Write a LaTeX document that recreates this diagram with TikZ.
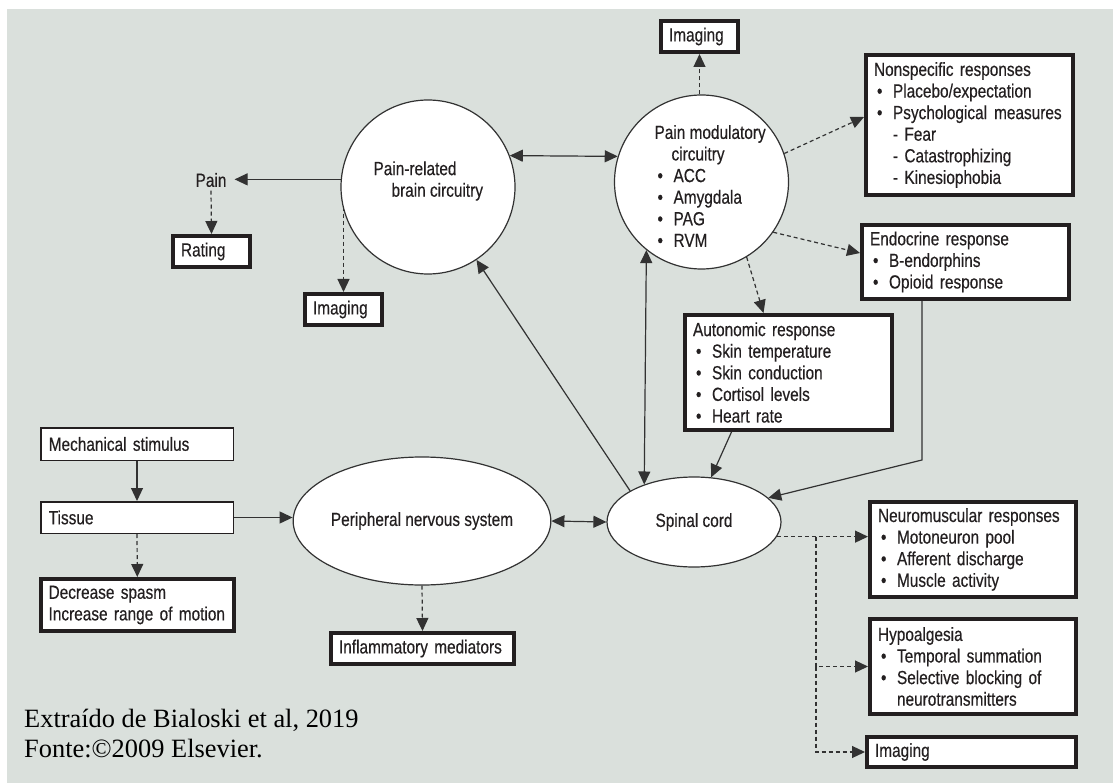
\documentclass[tikz,border=0pt]{standalone}
\usepackage{fontspec}
\setmainfont{Liberation Sans}[FakeStretch=0.81,FakeBold=0.35]
\newfontfamily\capfont{Liberation Serif}
\usetikzlibrary{arrows.meta,shapes.geometric}

\definecolor{panel}{RGB}{218,224,220}
\definecolor{ink}{RGB}{35,31,32}
\definecolor{wire}{RGB}{50,50,50}

% bullet and dash items of the lists
\newcommand{\itm}[1]{\mbox{\makebox[19pt][l]{\hspace*{3pt}\textbullet}#1}}
\newcommand{\subitm}[1]{\mbox{\hspace*{19pt}- #1}}

\begin{document}
\begin{tikzpicture}[x=1pt, y=-1pt,
    font=\fontsize{19}{21.6}\selectfont,
    every node/.style={text=ink},
    conn/.style={draw=wire, line width=1.2pt},
    arr/.style={-{Triangle[length=13pt,width=12pt]}},
    biarr/.style={{Triangle[length=13pt,width=12pt]}-{Triangle[length=13pt,width=12pt]}},
    dashln/.style={dash pattern=on 4pt off 3pt},
    thinbox/.style={draw=ink, fill=white, line width=1.5pt, inner xsep=8pt, inner ysep=0pt, align=left},
    thickbox/.style={thinbox, line width=4pt},
    blob/.style={draw=wire, fill=white, line width=1.2pt, inner sep=0pt}]

    % Background panel
    \fill[white] (0,0) rectangle (1113,783);
    \fill[panel] (7,9) rectangle (1113,783);
    \useasboundingbox (0,0) rectangle (1113,783);

    % Brain circuits
    \node[blob, circle, minimum size=174pt] (brain) at (428,187) {};
    \node[align=left, anchor=west] (braintxt) at (370,181) {Pain-related\\\hspace*{18pt}brain circuitry};
    \node[blob, circle, minimum size=174pt] (mod) at (701.5,182) {};
    \node[align=left, anchor=west] (modtxt) at (651,186) {Pain modulatory\\\hspace*{17pt}circuitry\\\itm{ACC}\\\itm{Amygdala}\\\itm{PAG}\\\itm{RVM}};

    % Peripheral nervous system and spinal cord
    \node[blob, ellipse, minimum width=230pt, minimum height=128pt] (pn) at (422,521) {Peripheral nervous system};
    \node[blob, ellipse, minimum width=174pt, minimum height=90pt] (sp) at (694,522) {Spinal cord};

    % Outputs of the brain
    \node[inner xsep=8pt] (pain) at (211,180) {Pain};
    \node[thickbox, text width=61pt, minimum height=31pt] (rating) at (211.5,251.5) {Rating};
    \node[thickbox, text width=61pt, minimum height=31pt] (img2) at (343.5,309.5) {Imaging};
    \node[thickbox, text width=61pt, minimum height=31pt] (img1) at (699.5,36.5) {Imaging};
    \node[thickbox, text width=191pt, minimum height=140pt] (ns) at (969.5,125) {Nonspecific responses\\\itm{Placebo/expectation}\\\itm{Psychological\hspace{7pt}measures}\\\subitm{Fear}\\\subitm{Catastrophizing}\\\subitm{Kinesiophobia}};
    \node[thickbox, text width=191pt, minimum height=74pt] (en) at (965.5,262) {Endocrine response\\\itm{B-endorphins}\\\itm{Opioid response}};
    \node[thickbox, text width=191pt, minimum height=115pt] (au) at (788.5,372.5) {Autonomic response\\\itm{Skin temperature}\\\itm{Skin conduction}\\\itm{Cortisol levels}\\\itm{Heart rate}};

    % Tissue chain
    \node[thinbox, text width=176.5pt, minimum height=32.5pt] (mech) at (137,444) {Mechanical stimulus};
    \node[thinbox, text width=176.5pt, minimum height=31.5pt] (tissue) at (137,517.5) {Tissue};
    \node[thickbox, text width=177.4pt, minimum height=52pt] (dec) at (137.3,605) {Decrease spasm\\Increase range of motion};
    \node[thickbox, text width=167pt, minimum height=31pt] (infl) at (422.5,648.5) {Inflammatory mediators};

    % Outputs of the spinal cord
    \node[thickbox, text width=190pt, minimum height=95pt] (nm) at (973,549.5) {Neuromuscular responses\\\itm{Motoneuron pool}\\\itm{Afferent discharge}\\\itm{Muscle activity}};
    \node[thickbox, text width=190pt, minimum height=95pt] (hy) at (973,666.5) {Hypoalgesia\\\itm{Temporal summation}\\\itm{Selective blocking of}\\\hspace*{19pt}neurotransmitters};
    \node[thickbox, text width=193pt, minimum height=30pt] (img3) at (971.5,752) {Imaging};

    % Source
    \node[font=\capfont\fontsize{26.4}{30}\selectfont, text=black, anchor=base west, inner sep=0pt] (cap1) at (24,727) {Extraído de Bialoski et al, 2019};
    \node[font=\capfont\fontsize{26.4}{30}\selectfont, text=black, anchor=base west, inner sep=0pt] (cap2) at (24,757) {Fonte:©2009 Elsevier.};

    % Connectors around the brain
    \draw[conn, arr] (brain.175) -- (brain.175 -| pain.east);
    \draw[conn, dashln, arr] (pain.south) -- (rating.north);
    \draw[conn, dashln, arr] (img2.north |- brain.193) -- (img2.north);
    \draw[conn, biarr] (brain.21) -- (mod.163);
    \draw[conn, dashln, arr] (img1.south |- mod.north) -- (img1.south);
    \draw[conn, dashln, arr] (mod.19) -- ([yshift=8pt]ns.west);
    \draw[conn, dashln, arr] (mod.-35) -- ([yshift=9pt]en.west);
    \draw[conn, dashln, arr] (mod.-59) -- ([xshift=-25pt]au.north);
    \draw[conn, biarr] (mod.231) -- (sp.143);

    % Connectors into the spinal cord
    \draw[conn, arr] ([xshift=-57pt]au.south) -- (sp.69);
    \coordinate (enbend) at (922,460);
    \draw[conn, arr] (enbend |- en.south) -- (enbend) -- (sp.18);
    \draw[conn, arr] (sp.154) -- (brain);

    % Tissue chain connectors
    \draw[conn, arr] (mech.south) -- (tissue.north);
    \draw[conn, dashln, arr] (tissue.south) -- (dec.north);
    \draw[conn, arr] (tissue.east) -- (tissue.east -| pn.west);
    \draw[conn, biarr] (pn.east) -- (sp.west);
    \draw[conn, dashln, arr] (pn.south) -- (infl.north);

    % Spinal cord outputs
    \coordinate (split) at (816,0);
    \draw[conn, dashln, arr] (sp.-10) -- (sp.-10 -| nm.west);
    \draw[conn, dashln, arr] (split |- sp.-10) |- (hy.west);
    \draw[conn, dashln, arr] (split |- hy.west) |- (img3.west);

\end{tikzpicture}
\end{document}
